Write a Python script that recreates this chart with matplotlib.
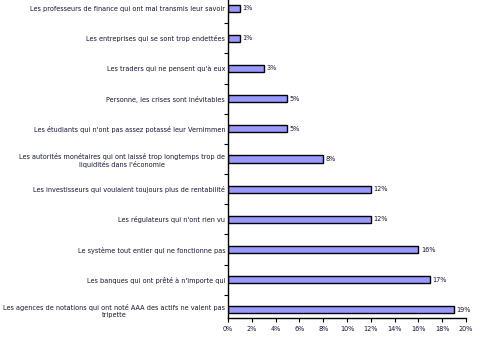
import matplotlib
matplotlib.use("Agg")
import matplotlib.pyplot as plt
from matplotlib.ticker import FuncFormatter, MultipleLocator, FixedLocator

# Responses, listed from top to bottom
categories = [
    "Les professeurs de finance qui ont mal transmis leur savoir",
    "Les entreprises qui se sont trop endettées",
    "Les traders qui ne pensent qu'à eux",
    "Personne, les crises sont inévitables",
    "Les étudiants qui n'ont pas assez potassé leur Vernimmen",
    "Les autorités monétaires qui ont laissé trop longtemps trop de\nliquidités dans l'économie",
    "Les investisseurs qui voulaient toujours plus de rentabilité",
    "Les régulateurs qui n'ont rien vu",
    "Le système tout entier qui ne fonctionne pas",
    "Les banques qui ont prêté à n'importe qui",
    "Les agences de notations qui ont noté AAA des actifs ne valent pas\ntripette",
]
values = [1, 1, 3, 5, 5, 8, 12, 12, 16, 17, 19]

W, H = 481, 339
fig = plt.figure(figsize=(W / 100, H / 100), dpi=100)
left, right, top, bottom = 228, 466, 0, 318
ax = fig.add_axes([left / W, 1 - bottom / H, (right - left) / W, (bottom - top) / H])

n = len(categories)
ypos = [n - 1 - i for i in range(n)]
text_color = "#141432"
fs = 4.72

ax.barh(ypos, values, height=0.24, color="#9999ff", edgecolor="black", linewidth=1.0)

for y, v in zip(ypos, values):
    ax.text(v + 0.2, y, f"{v}%", va="center", ha="left", fontsize=fs, color=text_color)

ax.set_xlim(0, 20)
ax.set_ylim(-0.27, n - 1 + 0.27)

ax.xaxis.set_major_locator(MultipleLocator(2))
ax.xaxis.set_major_formatter(FuncFormatter(lambda x, p: f"{x:.0f}%"))
ax.tick_params(axis="x", labelsize=fs, labelcolor=text_color, length=3, width=0.8,
               direction="out", pad=2.5)

ax.set_yticks(ypos)
ax.set_yticklabels(categories, fontsize=fs, color=text_color, multialignment="center",
                   linespacing=1.3)
ax.tick_params(axis="y", length=0, pad=2)
ax.yaxis.set_minor_locator(FixedLocator([k + 0.5 for k in range(n - 1)]))
ax.tick_params(axis="y", which="minor", length=3, width=0.8, direction="out")

for s in ["top", "right"]:
    ax.spines[s].set_visible(False)
for s in ["left", "bottom"]:
    ax.spines[s].set_linewidth(1.0)
    ax.spines[s].set_color("black")

fig.savefig("out.png", dpi=100)
